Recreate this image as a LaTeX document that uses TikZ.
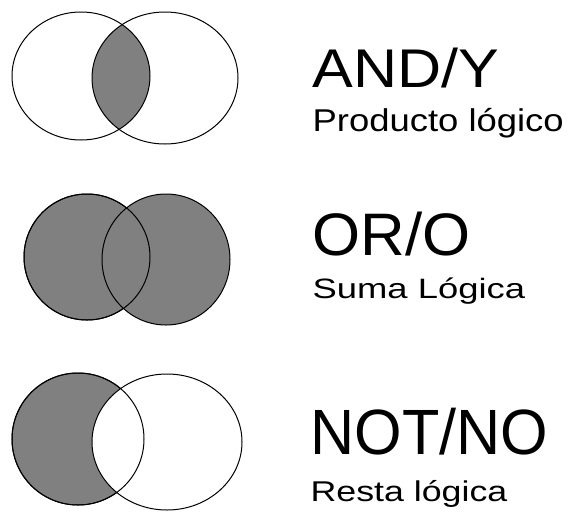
\documentclass[tikz,border=0pt]{standalone}
\usepackage{fontspec}
\setmainfont{Liberation Sans}
\begin{document}
\begin{tikzpicture}[x=1pt, y=-1pt, line width=1pt,
  optext/.style={anchor=base west, inner sep=0pt},
  subtext/.style={anchor=base west, inner sep=0pt}]
\useasboundingbox (0,0) rectangle (570,512);
\definecolor{venngray}{gray}{0.5}

% AND: only the overlap is filled
\begin{scope}
\clip (81,76) ellipse [x radius=69pt, y radius=64pt];
\fill[venngray] (165,78) ellipse [x radius=73pt, y radius=66pt];
\end{scope}
\draw (81,76) ellipse [x radius=69pt, y radius=64pt];
\draw (165,78) ellipse [x radius=73pt, y radius=66pt];
\node[optext, xscale=1.12, font=\fontsize{54.5}{60}\selectfont] (andtitle) at (312,87) {AND/Y};
\node[subtext, xscale=1.157, font=\fontsize{31.5}{36}\selectfont] (andsub) at (312,131) {Producto lógico};

% OR: both sets filled
\filldraw[fill=venngray] (87,257) ellipse [x radius=63pt, y radius=63pt];
\filldraw[fill=venngray] (166,259.5) ellipse [x radius=64pt, y radius=65.5pt];
\draw (87,257) ellipse [x radius=63pt, y radius=63pt];
\node[optext, xscale=1.03, font=\fontsize{60}{66}\selectfont] (ortitle) at (312,255) {OR/O};
\node[subtext, xscale=1.30, font=\fontsize{28}{32}\selectfont] (orsub) at (312,298) {Suma Lógica};

% NOT: left set without the right one
\filldraw[fill=venngray] (78,439) ellipse [x radius=66pt, y radius=66pt];
\filldraw[fill=white] (167,442) ellipse [x radius=75pt, y radius=68pt];
\draw (78,439) ellipse [x radius=66pt, y radius=66pt];
\node[optext, xscale=0.955, font=\fontsize{64}{70}\selectfont] (nottitle) at (310,454) {NOT/NO};
\node[subtext, xscale=1.25, font=\fontsize{28.6}{33}\selectfont] (notsub) at (310,501) {Resta lógica};
\end{tikzpicture}
\end{document}
